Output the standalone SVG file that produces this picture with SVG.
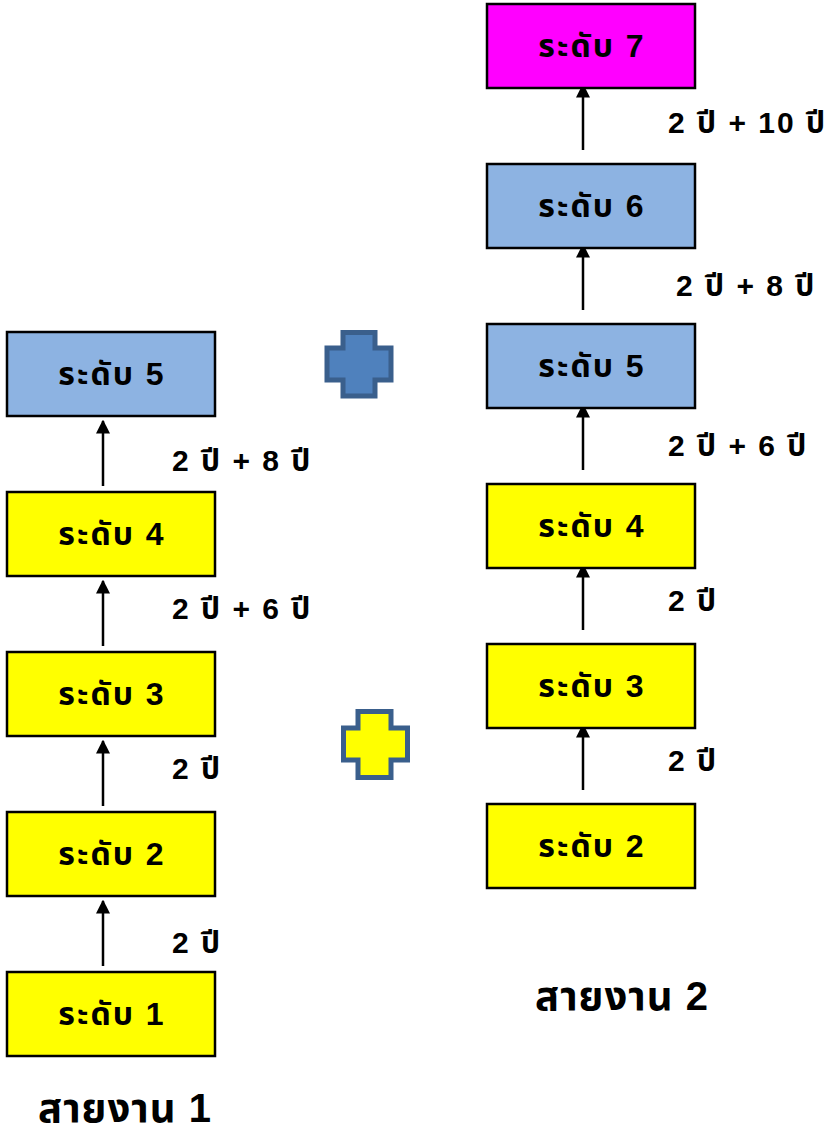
<svg xmlns="http://www.w3.org/2000/svg" width="836" height="1131" viewBox="0 0 836 1131">
<style>
.box{stroke:#000;stroke-width:2.5}
.y{fill:#ffff00}.b{fill:#8db3e2}.m{fill:#ff00ff}
.t{font-family:"Liberation Sans","Noto Sans Thai","Noto Sans",sans-serif;font-weight:bold;font-size:32px;letter-spacing:2px;fill:#000;text-anchor:middle;dominant-baseline:central}
.l{font-family:"Liberation Sans","Noto Sans Thai","Noto Sans",sans-serif;font-weight:bold;font-size:30px;letter-spacing:2px;fill:#000;dominant-baseline:central}
.h{font-family:"Liberation Sans","Noto Sans Thai","Noto Sans",sans-serif;font-weight:bold;font-size:40px;letter-spacing:1px;fill:#000;text-anchor:middle;dominant-baseline:central}
</style>
<defs>
<marker id="a" viewBox="0 0 10 10" refX="9" refY="5" markerWidth="14" markerHeight="14" markerUnits="userSpaceOnUse" orient="auto">
<path d="M0,0 L10,5 L0,10 z" fill="#000"/>
</marker>
</defs>
<g id="connectors">
<line x1="103" y1="486" x2="103" y2="421" stroke="#000" stroke-width="2.5" marker-end="url(#a)"/>
<line x1="103" y1="646" x2="103" y2="581" stroke="#000" stroke-width="2.5" marker-end="url(#a)"/>
<line x1="103" y1="806" x2="103" y2="741" stroke="#000" stroke-width="2.5" marker-end="url(#a)"/>
<line x1="103" y1="966" x2="103" y2="901" stroke="#000" stroke-width="2.5" marker-end="url(#a)"/>
<line x1="583" y1="150" x2="583" y2="85" stroke="#000" stroke-width="2.5" marker-end="url(#a)"/>
<line x1="583" y1="310" x2="583" y2="245" stroke="#000" stroke-width="2.5" marker-end="url(#a)"/>
<line x1="583" y1="470" x2="583" y2="405" stroke="#000" stroke-width="2.5" marker-end="url(#a)"/>
<line x1="583" y1="630" x2="583" y2="565" stroke="#000" stroke-width="2.5" marker-end="url(#a)"/>
<line x1="583" y1="790" x2="583" y2="725" stroke="#000" stroke-width="2.5" marker-end="url(#a)"/>
</g>
<g id="left-5"><rect class="box b" x="7" y="332" width="208" height="84"/><text class="t" x="112" y="374">ระดับ 5</text></g>
<g id="left-4"><rect class="box y" x="7" y="492" width="208" height="84"/><text class="t" x="112" y="534">ระดับ 4</text></g>
<g id="left-3"><rect class="box y" x="7" y="652" width="208" height="84"/><text class="t" x="112" y="694">ระดับ 3</text></g>
<g id="left-2"><rect class="box y" x="7" y="812" width="208" height="84"/><text class="t" x="112" y="854">ระดับ 2</text></g>
<g id="left-1"><rect class="box y" x="7" y="972" width="208" height="84"/><text class="t" x="112" y="1014">ระดับ 1</text></g>
<g id="right-7"><rect class="box m" x="487" y="4" width="208" height="84"/><text class="t" x="592" y="46">ระดับ 7</text></g>
<g id="right-6"><rect class="box b" x="487" y="164" width="208" height="84"/><text class="t" x="592" y="206">ระดับ 6</text></g>
<g id="right-5"><rect class="box b" x="487" y="324" width="208" height="84"/><text class="t" x="592" y="366">ระดับ 5</text></g>
<g id="right-4"><rect class="box y" x="487" y="484" width="208" height="84"/><text class="t" x="592" y="526">ระดับ 4</text></g>
<g id="right-3"><rect class="box y" x="487" y="644" width="208" height="84"/><text class="t" x="592" y="686">ระดับ 3</text></g>
<g id="right-2"><rect class="box y" x="487" y="804" width="208" height="84"/><text class="t" x="592" y="846">ระดับ 2</text></g>
<g id="labels">
<text class="l" x="172" y="460">2 ปี + 8 ปี</text>
<text class="l" x="172" y="608">2 ปี + 6 ปี</text>
<text class="l" x="172" y="768">2 ปี</text>
<text class="l" x="172" y="942">2 ปี</text>
<text class="l" x="668" y="122">2 ปี + 10 ปี</text>
<text class="l" x="676" y="285">2 ปี + 8 ปี</text>
<text class="l" x="668" y="445">2 ปี + 6 ปี</text>
<text class="l" x="668" y="600">2 ปี</text>
<text class="l" x="668" y="760">2 ปี</text>
<text class="h" x="125" y="1108">สายงาน 1</text>
<text class="h" x="622" y="996">สายงาน 2</text>
</g>
<g id="cross-blue"><path d="M343,332.5 H375 V348 H391 V380 H375 V396 H343 V380 H327 V348 H343 Z" fill="#4f81bd" stroke="#3a5f8c" stroke-width="5"/></g>
<g id="cross-yellow"><path d="M358,711.5 H391 V728 H407.5 V760 H391 V777.5 H358 V760 H343.5 V728 H358 Z" fill="#ffff00" stroke="#3a5f8c" stroke-width="5"/></g>
</svg>
